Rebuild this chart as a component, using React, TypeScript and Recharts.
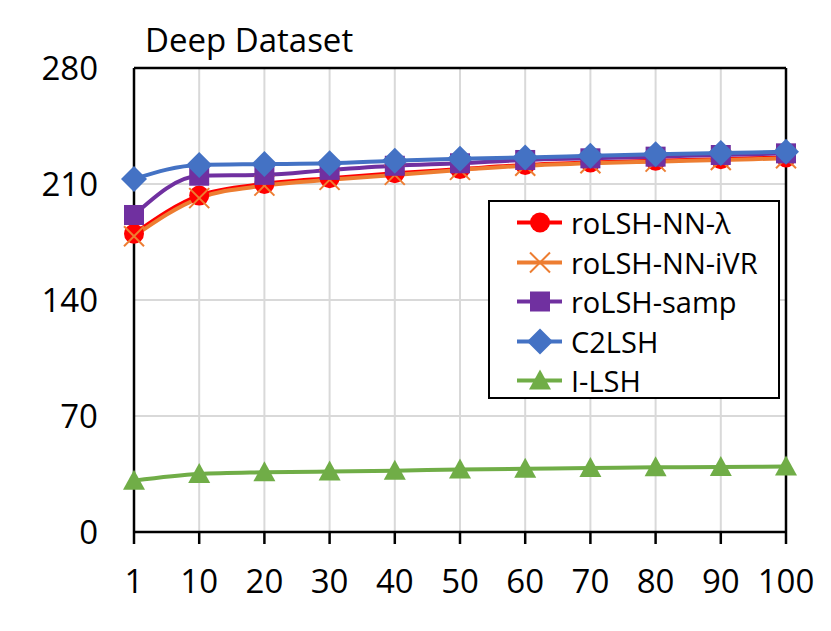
import React from 'react';
import { LineChart, Line, XAxis, YAxis, CartesianGrid, Legend, ReferenceLine } from 'recharts';

const categories = ['1', '10', '20', '30', '40', '50', '60', '70', '80', '90', '100'];
const rolshNnLambda = [180, 203, 210, 213.5, 216.5, 219, 221.5, 223, 224, 225, 226];
const rolshNnIvr = [178.5, 201.5, 209, 212.5, 215.5, 218.5, 221, 222.5, 223.5, 224.5, 225.5];
const rolshSamp = [191.3, 215, 215.5, 218.5, 221, 222.5, 224.5, 225.5, 226.5, 227.5, 228.5];
const c2lsh = [213, 221.5, 222, 222.5, 224, 225.3, 226, 227, 228, 228.7, 229.4];
const iLsh = [31, 35, 36, 36.5, 37, 37.7, 38.2, 38.6, 39, 39.2, 39.5];
const yTicks = [0, 70, 140, 210, 280];

const FONT = '"Open Sans", Calibri, sans-serif';

const data = categories.map((c, i) => ({
  k: c,
  lambda: rolshNnLambda[i],
  ivr: rolshNnIvr[i],
  samp: rolshSamp[i],
  c2: c2lsh[i],
  ilsh: iLsh[i],
}));

const Mark = ({ shape, cx, cy, color }: any) => {
  if (shape === 'circle') return <circle cx={cx} cy={cy} r={10} fill={color} />;
  if (shape === 'x')
    return (
      <g stroke={color} strokeWidth={2}>
        <line x1={cx - 10} y1={cy - 10} x2={cx + 10} y2={cy + 10} />
        <line x1={cx - 10} y1={cy + 10} x2={cx + 10} y2={cy - 10} />
      </g>
    );
  if (shape === 'square') return <rect x={cx - 10} y={cy - 10} width={20} height={20} fill={color} />;
  if (shape === 'diamond')
    return <polygon points={`${cx},${cy - 13} ${cx + 13},${cy} ${cx},${cy + 13} ${cx - 13},${cy}`} fill={color} />;
  return <polygon points={`${cx},${cy - 11} ${cx + 11},${cy + 9} ${cx - 11},${cy + 9}`} fill={color} />;
};

const series = [
  { key: 'lambda', name: 'roLSH-NN-λ', color: '#FF0000', shape: 'circle' },
  { key: 'ivr', name: 'roLSH-NN-iVR', color: '#ED7D31', shape: 'x' },
  { key: 'samp', name: 'roLSH-samp', color: '#7030A0', shape: 'square' },
  { key: 'c2', name: 'C2LSH', color: '#4472C4', shape: 'diamond' },
  { key: 'ilsh', name: 'I-LSH', color: '#70AD47', shape: 'triangle' },
];

const XTick = ({ x, y, payload }: any) => (
  <text x={x} y={y + 49} textAnchor="middle" fontSize={33} fontFamily={FONT} fill="#000">
    {payload.value}
  </text>
);

const YTick = ({ y, payload }: any) => (
  <text x={98} y={y + 12} textAnchor="end" fontSize={33} fontFamily={FONT} fill="#000">
    {payload.value}
  </text>
);

const LegendBox = () => (
  <div
    style={{
      boxSizing: 'border-box',
      width: 292,
      height: 199,
      border: '2px solid #000',
      background: '#fff',
      paddingTop: 1,
      fontFamily: FONT,
    }}
  >
    {series.map((s) => (
      <div key={s.key} style={{ display: 'flex', alignItems: 'center', height: 39.5 }}>
        <svg width={78} height={39} style={{ flex: 'none' }}>
          <line x1={27} y1={19.5} x2={72} y2={19.5} stroke={s.color} strokeWidth={4} />
          <Mark shape={s.shape} cx={50} cy={19.5} color={s.color} />
        </svg>
        <span style={{ marginLeft: 3, fontSize: 29, lineHeight: '39px', color: '#000', whiteSpace: 'nowrap' }}>
          {s.name}
        </span>
      </div>
    ))}
  </div>
);

export default function App() {
  return (
    <div style={{ position: 'absolute', left: 0, top: 0, width: 831, height: 631, background: '#fff' }}>
      <div
        style={{
          position: 'absolute',
          left: 145,
          top: 23,
          fontFamily: FONT,
          fontSize: 33,
          lineHeight: '33px',
          color: '#000',
          whiteSpace: 'nowrap',
          zIndex: 2,
        }}
      >
        Deep Dataset
      </div>
      <LineChart width={831} height={631} data={data} margin={{ top: 68, right: 45, bottom: 39, left: 34 }}>
        <CartesianGrid stroke="#D9D9D9" strokeWidth={2} />
        <XAxis
          dataKey="k"
          height={60}
          axisLine={{ stroke: '#000', strokeWidth: 2.5 }}
          tickLine={{ stroke: '#000', strokeWidth: 2.5 }}
          tickSize={12}
          tickMargin={0}
          tick={<XTick />}
          interval={0}
        />
        <YAxis
          domain={[0, 280]}
          ticks={yTicks}
          width={100}
          axisLine={{ stroke: '#000', strokeWidth: 2.5 }}
          tickLine={false}
          tick={<YTick />}
          interval={0}
        />
        <ReferenceLine y={280} stroke="#000" strokeWidth={2.5} />
        <ReferenceLine x="100" stroke="#000" strokeWidth={2.5} />
        {series.map((s) => (
          <Line
            key={s.key}
            dataKey={s.key}
            name={s.name}
            type="monotone"
            stroke={s.color}
            strokeWidth={4}
            isAnimationActive={false}
            activeDot={false}
            dot={(p: any) => <Mark key={`${s.key}-${p.index}`} shape={s.shape} cx={p.cx} cy={p.cy} color={s.color} />}
          />
        ))}
        <Legend
          layout="vertical"
          align="center"
          verticalAlign="middle"
          wrapperStyle={{ left: 488, top: 200, width: 292, height: 199 }}
          content={() => <LegendBox />}
        />
      </LineChart>
    </div>
  );
}
